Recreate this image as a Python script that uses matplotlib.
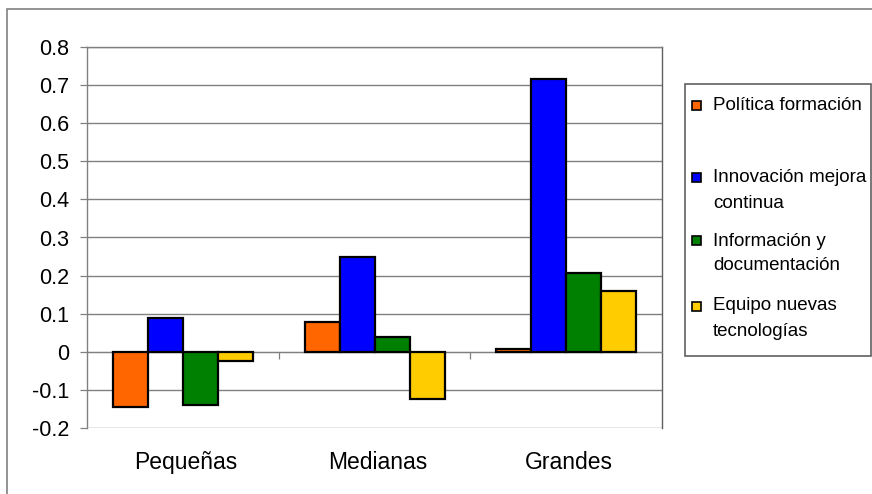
import numpy as np
import matplotlib
matplotlib.use("Agg")
import matplotlib.pyplot as plt
from matplotlib.patches import Rectangle
from matplotlib.ticker import FixedLocator

plt.rcParams['font.family'] = ['Liberation Sans', 'DejaVu Sans']

# Data
categories = ["Pequeñas", "Medianas", "Grandes"]
series_names = ["Política formación", "Innovación mejora\ncontinua",
                "Información y\ndocumentación", "Equipo nuevas\ntecnologías"]
politica = [-0.144, 0.079, 0.008]
innovacion = [0.089, 0.249, 0.717]
informacion = [-0.139, 0.040, 0.207]
equipo = [-0.024, -0.124, 0.160]
colors = ["#FF6600", "#0000FF", "#008000", "#FFCC00"]

W, H = 872, 494
fig = plt.figure(figsize=(W / 100, H / 100), dpi=100)
fig.patch.set_facecolor("white")

# outer chart border (right/bottom run off the image)
fig.patches.append(Rectangle((7 / W, -0.1), 1.2, 1 - 9 / H + 0.1, transform=fig.transFigure,
                             fill=False, edgecolor="#808080", linewidth=1.2))

# plot area
left, right, top, bottom = 87, 662, 47, 428
ax = fig.add_axes([left / W, 1 - bottom / H, (right - left) / W, (bottom - top) / H])

x = np.arange(len(categories))
bw = 35 / ((right - left) / 3)
all_series = [politica, innovacion, informacion, equipo]
for i, (vals, c) in enumerate(zip(all_series, colors)):
    ax.bar(x + (i - 1.5) * bw, vals, bw, color=c, edgecolor="black", linewidth=1.6, zorder=3)

ax.set_xlim(-0.5, 2.5)
ax.set_ylim(-0.2, 0.8)
ax.set_yticks(np.arange(-0.2, 0.81, 0.1))
ax.set_yticklabels(["-0.2", "-0.1", "0", "0.1", "0.2", "0.3", "0.4", "0.5", "0.6", "0.7", "0.8"])
ax.yaxis.grid(True, color="#808080", linewidth=1.0, zorder=0)
ax.tick_params(axis="y", length=5, width=0.9, color="#808080", pad=8, labelsize=15.5)

# category axis crosses at zero, tick marks between groups
ax.spines["bottom"].set_position(("data", 0))
ax.spines["bottom"].set_color("#808080")
ax.xaxis.set_major_locator(FixedLocator([0.5, 1.5]))
ax.tick_params(axis="x", length=5, width=0.9, color="#808080", labelbottom=False)
for s in ["left", "right", "top"]:
    ax.spines[s].set_color("#808080")
    ax.spines[s].set_linewidth(1.0)
ax.spines["right"].set_color("#606060")

for xi, cat in zip(x, categories):
    ax.annotate(cat, xy=(xi, 0), xycoords=("data", "axes fraction"),
                xytext=(2, -25), textcoords="offset points",
                ha="center", va="center", fontsize=16.5)

# legend box drawn by hand, markers line up with the first text line
lx0, ly0, lx1, ly1 = 685, 84, 871, 356
fig.patches.append(Rectangle((lx0 / W, 1 - ly1 / H), (lx1 - lx0) / W, (ly1 - ly0) / H,
                             transform=fig.transFigure, facecolor="white",
                             edgecolor="#606060", linewidth=1.2))
entry_y = [106, 178, 241, 306]
line_gap = 25
for name, c, yy in zip(series_names, colors, entry_y):
    fig.patches.append(Rectangle((692 / W, 1 - (yy + 4.5) / H), 9 / W, 9 / H,
                                 transform=fig.transFigure, facecolor=c,
                                 edgecolor="black", linewidth=1.2))
    for k, line in enumerate(name.split("\n")):
        fig.text(713 / W, 1 - (yy + k * line_gap) / H, line, ha="left", va="center",
                 fontsize=13.5)

fig.savefig("out.png", dpi=100)
